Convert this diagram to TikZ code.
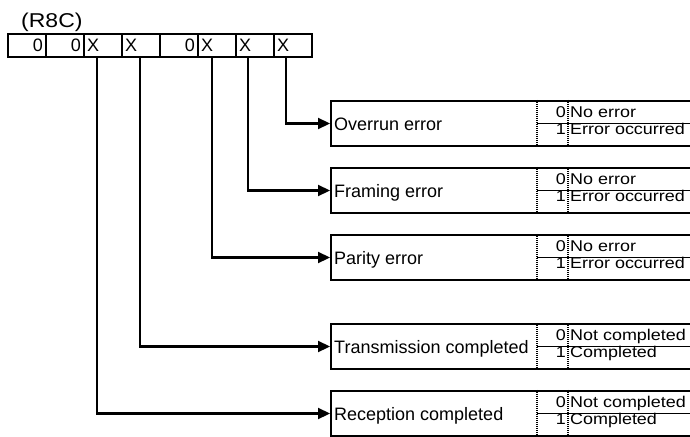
\documentclass[tikz,border=0pt]{standalone}
\usepackage{fontspec}
\setmainfont{Liberation Sans}
\newfontfamily\widefont[FakeStretch=1.15]{Liberation Sans}
\usetikzlibrary{arrows.meta}

\begin{document}
\begin{tikzpicture}[x=1pt, y=-1pt,
  cell/.style={draw, line width=2pt, minimum width=38pt, minimum height=23pt,
    inner sep=3pt, text width=32pt, font=\fontsize{18}{18}\selectfont},
  fieldbox/.style={draw, line width=2.2pt, minimum width=364pt, minimum height=45pt,
    anchor=west, inner sep=0pt},
  fieldname/.style={anchor=base west, inner sep=0pt, font=\fontsize{18}{18}\selectfont},
  valnum/.style={anchor=base east, inner sep=0pt, font=\widefont\fontsize{15.6}{16}\selectfont},
  valtext/.style={anchor=base west, inner sep=0pt, font=\widefont\fontsize{15.6}{16}\selectfont},
  sep/.style={line width=1.2pt, dash pattern=on 1pt off 1pt},
  rowline/.style={line width=1.8pt},
  conn/.style={line width=2.2pt, -{Triangle[length=12pt,width=11pt]}}]

\useasboundingbox (0,0) rectangle (690,436);

% register
\node[anchor=base west, inner sep=0pt, font=\widefont\fontsize{20}{20}\selectfont] (reg) at (21,28) {(R8C)};

\node[cell, align=right] (b7) at (27,45.5) {0};
\node[cell, align=right] (b6) at (65,45.5) {0};
\node[cell, align=left]  (b5) at (103,45.5) {X};
\node[cell, align=left]  (b4) at (141,45.5) {X};
\node[cell, align=right] (b3) at (179,45.5) {0};
\node[cell, align=left]  (b2) at (217,45.5) {X};
\node[cell, align=left]  (b1) at (255,45.5) {X};
\node[cell, align=left]  (b0) at (293,45.5) {X};

\coordinate (t0) at (286,57);
\coordinate (t1) at (248,57);
\coordinate (t2) at (212,57);
\coordinate (t4) at (140,57);
\coordinate (t5) at (97,57);

% overrun
\node[fieldbox] (ovr) at (330,123.5) {};
\node[fieldname] (ovrN) at ([xshift=4pt,yshift=-6.5pt]ovr.west) {Overrun error};
\draw[sep] ([xshift=207pt]ovr.north west) -- ([xshift=207pt]ovr.south west);
\draw[sep] ([xshift=238pt]ovr.north west) -- ([xshift=238pt]ovr.south west);
\draw[rowline] ([xshift=207pt]ovr.west) -- (ovr.east);
\node[valnum]  (ovr0) at ([xshift=236pt,yshift=-17.5pt]ovr.north west) {0};
\node[valtext] (ovrA) at ([xshift=240pt,yshift=-17.5pt]ovr.north west) {No error};
\node[valnum]  (ovr1) at ([xshift=236pt,yshift=-34.5pt]ovr.north west) {1};
\node[valtext] (ovrB) at ([xshift=240pt,yshift=-34.5pt]ovr.north west) {Error occurred};

% framing
\node[fieldbox] (frm) at (330,190.5) {};
\node[fieldname] (frmN) at ([xshift=4pt,yshift=-6.5pt]frm.west) {Framing error};
\draw[sep] ([xshift=207pt]frm.north west) -- ([xshift=207pt]frm.south west);
\draw[sep] ([xshift=238pt]frm.north west) -- ([xshift=238pt]frm.south west);
\draw[rowline] ([xshift=207pt]frm.west) -- (frm.east);
\node[valnum]  (frm0) at ([xshift=236pt,yshift=-17.5pt]frm.north west) {0};
\node[valtext] (frmA) at ([xshift=240pt,yshift=-17.5pt]frm.north west) {No error};
\node[valnum]  (frm1) at ([xshift=236pt,yshift=-34.5pt]frm.north west) {1};
\node[valtext] (frmB) at ([xshift=240pt,yshift=-34.5pt]frm.north west) {Error occurred};

% parity
\node[fieldbox] (par) at (330,257.5) {};
\node[fieldname] (parN) at ([xshift=4pt,yshift=-6.5pt]par.west) {Parity error};
\draw[sep] ([xshift=207pt]par.north west) -- ([xshift=207pt]par.south west);
\draw[sep] ([xshift=238pt]par.north west) -- ([xshift=238pt]par.south west);
\draw[rowline] ([xshift=207pt]par.west) -- (par.east);
\node[valnum]  (par0) at ([xshift=236pt,yshift=-17.5pt]par.north west) {0};
\node[valtext] (parA) at ([xshift=240pt,yshift=-17.5pt]par.north west) {No error};
\node[valnum]  (par1) at ([xshift=236pt,yshift=-34.5pt]par.north west) {1};
\node[valtext] (parB) at ([xshift=240pt,yshift=-34.5pt]par.north west) {Error occurred};

% transmission
\node[fieldbox] (txd) at (330,346.5) {};
\node[fieldname] (txdN) at ([xshift=4pt,yshift=-6.5pt]txd.west) {Transmission completed};
\draw[sep] ([xshift=207pt]txd.north west) -- ([xshift=207pt]txd.south west);
\draw[sep] ([xshift=238pt]txd.north west) -- ([xshift=238pt]txd.south west);
\draw[rowline] ([xshift=207pt]txd.west) -- (txd.east);
\node[valnum]  (txd0) at ([xshift=236pt,yshift=-17.5pt]txd.north west) {0};
\node[valtext] (txdA) at ([xshift=240pt,yshift=-17.5pt]txd.north west) {Not completed};
\node[valnum]  (txd1) at ([xshift=236pt,yshift=-34.5pt]txd.north west) {1};
\node[valtext] (txdB) at ([xshift=240pt,yshift=-34.5pt]txd.north west) {Completed};

% reception
\node[fieldbox] (rxd) at (330,413.5) {};
\node[fieldname] (rxdN) at ([xshift=4pt,yshift=-6.5pt]rxd.west) {Reception completed};
\draw[sep] ([xshift=207pt]rxd.north west) -- ([xshift=207pt]rxd.south west);
\draw[sep] ([xshift=238pt]rxd.north west) -- ([xshift=238pt]rxd.south west);
\draw[rowline] ([xshift=207pt]rxd.west) -- (rxd.east);
\node[valnum]  (rxd0) at ([xshift=236pt,yshift=-17.5pt]rxd.north west) {0};
\node[valtext] (rxdA) at ([xshift=240pt,yshift=-17.5pt]rxd.north west) {Not completed};
\node[valnum]  (rxd1) at ([xshift=236pt,yshift=-34.5pt]rxd.north west) {1};
\node[valtext] (rxdB) at ([xshift=240pt,yshift=-34.5pt]rxd.north west) {Completed};

% connectors
\draw[conn] (t0) |- (ovr.west);
\draw[conn] (t1) |- (frm.west);
\draw[conn] (t2) |- (par.west);
\draw[conn] (t4) |- (txd.west);
\draw[conn] (t5) |- (rxd.west);

\end{tikzpicture}
\end{document}
